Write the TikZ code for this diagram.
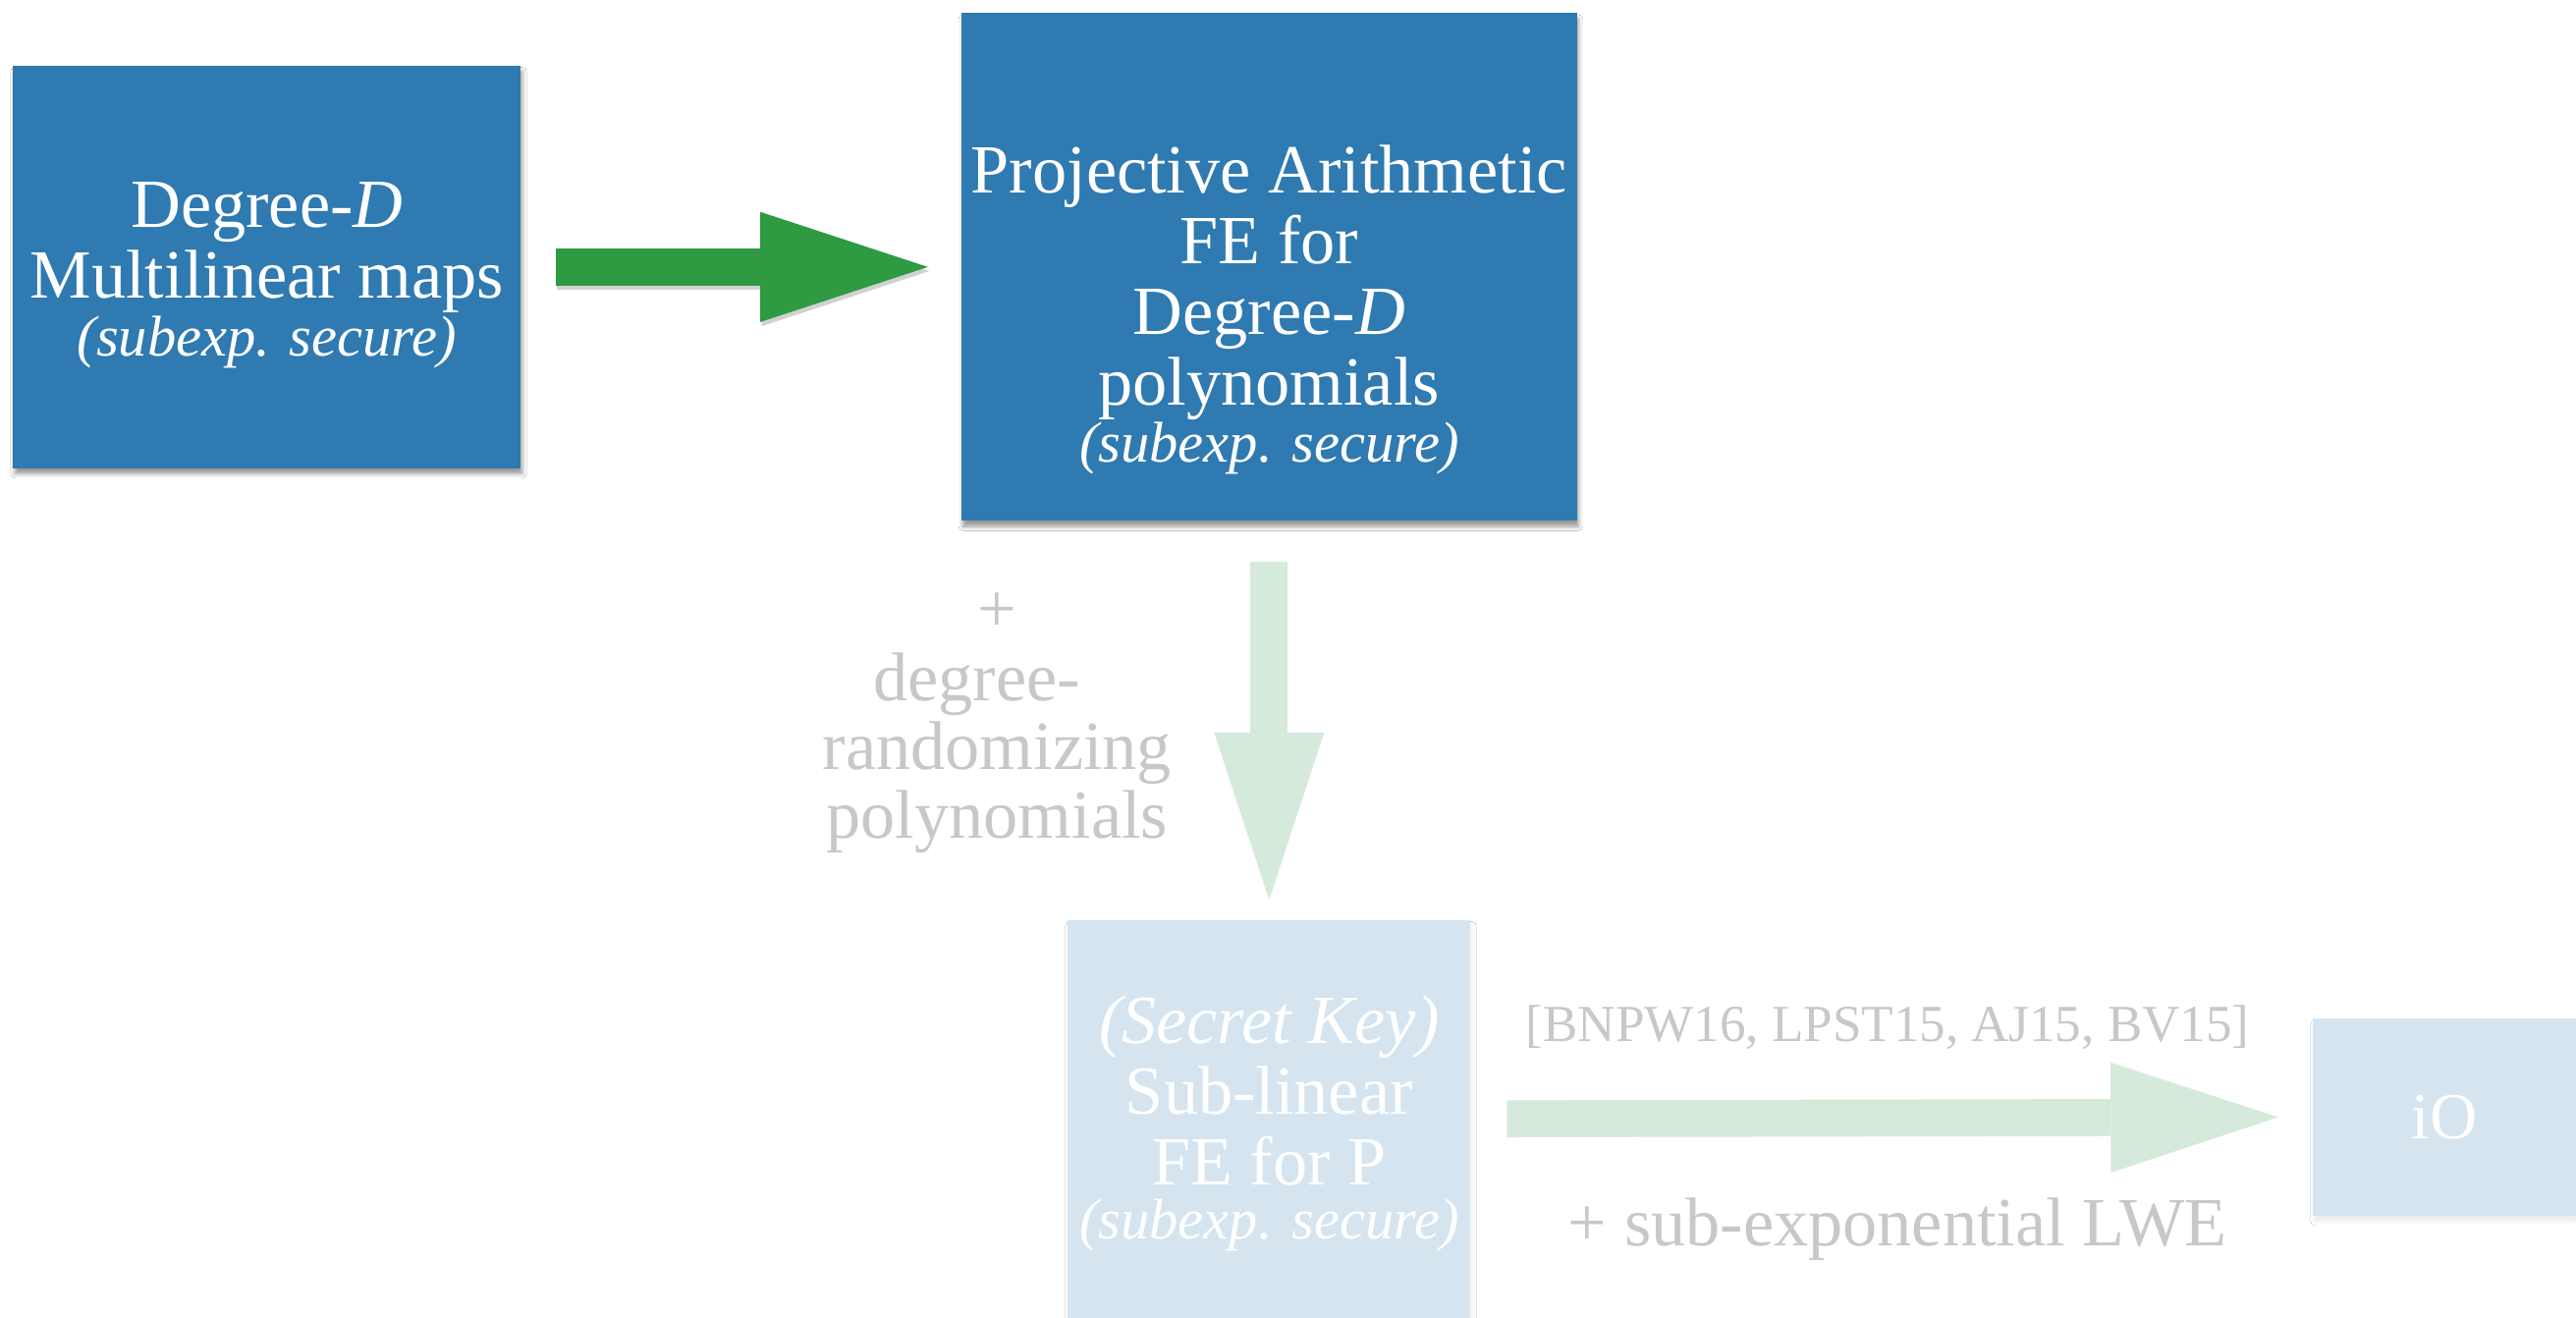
\documentclass[tikz,border=0pt]{standalone}
\usepackage{fontspec}
\setmainfont{Liberation Serif}
\usetikzlibrary{arrows.meta,shadows.blur}

\definecolor{deepblue}{HTML}{2F7AB0}
\definecolor{paleblue}{HTML}{D5E4EF}
\definecolor{leafgreen}{HTML}{2E9A42}
\definecolor{palegreen}{HTML}{D5EADB}
\definecolor{fadedtext}{HTML}{C8C8C8}

% struts that fix the height of the first and the depth of the last line
\newcommand\firststrut{\rule{0pt}{30pt}}
\newcommand\laststrut{\rule[-10pt]{0pt}{10pt}}
\newcommand\securenote{{\fontsize{35}{39}\selectfont\itshape (subexp. secure)\laststrut}}

\tikzset{
  darkcard/.style={rectangle, inner sep=0pt, fill=deepblue,
    blur shadow={shadow xshift=1pt, shadow yshift=-3.5pt, shadow blur radius=2.5pt, shadow opacity=40}},
  palecard/.style={rectangle, inner sep=0pt, fill=paleblue,
    blur shadow={shadow xshift=1pt, shadow yshift=-3.5pt, shadow blur radius=2.5pt, shadow opacity=8}},
  cardtext/.style={text=white, align=center, inner sep=0pt, font=\fontsize{42}{43}\selectfont},
  notetext/.style={text=fadedtext, align=center, inner sep=0pt},
  blockarrow/.style={line width=22.5pt, -{Triangle[length=102pt, width=67pt, line width=0pt]}},
}

\begin{document}
\begin{tikzpicture}[x=1pt, y=-1pt]
  \fill[white] (0,0) rectangle (1568,802);
  \useasboundingbox (0,0) rectangle (1568,802);

  % cards
  \node[darkcard, minimum width=309pt, minimum height=245pt] (mmaps) at (162.5,162.5) {};
  \node[darkcard, minimum width=375pt, minimum height=309pt] (pafe) at (772.5,162.5) {};
  \node[palecard, minimum width=245pt, minimum height=242pt] (slfe) at (772.5,681) {};
  \node[palecard, minimum width=160pt, minimum height=120pt, text=white,
        font=\fontsize{40}{43}\selectfont] (io) at (1488,680) {iO};

  % card texts
  \node[cardtext] (mmapsText) at (162.5,167.5)
    {\firststrut Degree-\textit{D}\\ Multilinear maps\\[-8pt] \securenote};
  \node[cardtext] (pafeText) at (772.5,189.5)
    {\firststrut Projective Arithmetic\\ FE for\\ Degree-\textit{D}\\ polynomials\\[-8pt] \securenote};
  \node[cardtext] (slfeText) at (772.5,684.5)
    {\firststrut\textit{(Secret Key)}\\ Sub-linear\\ FE for P\\[-10pt] \securenote};

  % connectors
  \draw[blockarrow, black, opacity=0.18] ([xshift=22pt, yshift=-2.5pt]mmaps.east) -- ([xshift=-19pt, yshift=-2.5pt]pafe.west);
  \draw[blockarrow, leafgreen] ([xshift=21pt]mmaps.east) -- ([xshift=-20pt]pafe.west);
  \draw[blockarrow, palegreen] ([yshift=-25pt]pafe.south) -- ([yshift=12pt]slfe.north);
  \draw[blockarrow, palegreen] ([xshift=22pt]slfe.east) -- ([xshift=-21pt]io.west);

  % connector labels
  \node[notetext, font=\fontsize{42}{42}\selectfont] (randLabel) at (607,437.5)
    {\firststrut +\\ degree-\rule{25pt}{0pt}\\ randomizing\\ polynomials\laststrut};
  \node[notetext, font=\fontsize{31.7}{36}\selectfont, anchor=base] (citeLabel) at (1149,634)
    {[BNPW16, LPST15, AJ15, BV15]};
  \node[notetext, font=\fontsize{42}{46}\selectfont, anchor=base] (lweLabel) at (1155,758)
    {+ sub-exponential LWE};
\end{tikzpicture}
\end{document}
